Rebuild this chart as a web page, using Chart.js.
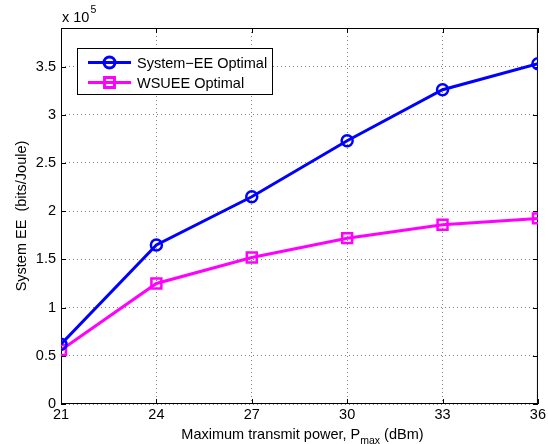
<!DOCTYPE html>
<html>
<head>
<meta charset="utf-8">
<title>System EE vs maximum transmit power</title>
<script src="https://cdn.jsdelivr.net/npm/chart.js@4.4.1/dist/chart.umd.min.js"></script>
<style>
  html, body { margin: 0; padding: 0; background: #fff; }
  canvas { display: block; }
</style>
</head>
<body>
<canvas id="eeChart" width="548" height="444"></canvas>
<script>
// values in units of 10^5 bits/Joule
const powerDbm = [21, 24, 27, 30, 33, 36];
const systemEeOptimal = [0.62, 1.65, 2.15, 2.73, 3.26, 3.53];
const wsueeOptimal = [0.56, 1.25, 1.52, 1.72, 1.86, 1.925];
const seriesNames = ["System\u2212EE Optimal", "WSUEE Optimal"];
const xTicks = [21, 24, 27, 30, 33, 36];
const yTicks = [0, 0.5, 1, 1.5, 2, 2.5, 3, 3.5];

const FONT = '"Liberation Sans", Arial, Helvetica, sans-serif';
const BLUE = "#0000ff";
const MAGENTA = "#ff00ff";

const toPoints = ys => powerDbm.map((x, i) => ({ x, y: ys[i] }));

// axes box, inward ticks, legend and the x label with subscript
const matlabFrame = {
  id: "matlabFrame",
  beforeDatasetsDraw(chart) {
    const { ctx, chartArea: a, scales } = chart;
    ctx.save();
    ctx.strokeStyle = "#000";
    ctx.lineWidth = 1;
    ctx.strokeRect(a.left + 0.5, a.top + 0.5, a.right - a.left - 1, a.bottom - a.top - 1);
    ctx.beginPath();
    const len = 5;
    for (const v of xTicks) {
      const px = Math.round(scales.x.getPixelForValue(v)) + 0.5;
      ctx.moveTo(px, a.bottom); ctx.lineTo(px, a.bottom - len);
      ctx.moveTo(px, a.top); ctx.lineTo(px, a.top + len);
    }
    for (const v of yTicks) {
      const py = Math.round(scales.y.getPixelForValue(v)) + 0.5;
      ctx.moveTo(a.left, py); ctx.lineTo(a.left + len, py);
      ctx.moveTo(a.right, py); ctx.lineTo(a.right - len, py);
    }
    ctx.stroke();
    ctx.restore();
  },
  afterDraw(chart) {
    const { ctx, chartArea: a } = chart;
    ctx.save();

    // legend
    const bx = 77.5, by = 48.5, bw = 195, bh = 46;
    ctx.fillStyle = "#fff";
    ctx.fillRect(bx, by, bw, bh);
    ctx.strokeStyle = "#000";
    ctx.lineWidth = 1;
    ctx.strokeRect(bx, by, bw, bh);
    chart.data.datasets.forEach((ds, i) => {
      const y = 62.5 + i * 20;
      ctx.strokeStyle = ds.borderColor;
      ctx.lineWidth = ds.borderWidth;
      ctx.beginPath();
      ctx.moveTo(88, y); ctx.lineTo(131, y);
      ctx.stroke();
      ctx.strokeStyle = ds.pointBorderColor;
      ctx.fillStyle = "rgba(0,0,0,0)";
      Chart.helpers.drawPoint(ctx, {
        pointStyle: ds.pointStyle, radius: ds.pointRadius,
        borderWidth: ds.pointBorderWidth, rotation: 0
      }, 109.5, y);
      ctx.fillStyle = "#000";
      ctx.font = `14.5px ${FONT}`;
      ctx.textBaseline = "middle";
      ctx.textAlign = "left";
      ctx.fillText(ds.label, 137, y + 1);
    });

    // x axis label with subscript
    const main = "Maximum transmit power, P";
    const sub = "max";
    const tail = " (dBm)";
    ctx.fillStyle = "#000";
    ctx.textBaseline = "alphabetic";
    ctx.textAlign = "left";
    ctx.font = `14.5px ${FONT}`;
    const w1 = ctx.measureText(main).width;
    const w3 = ctx.measureText(tail).width;
    ctx.font = `10.5px ${FONT}`;
    const w2 = ctx.measureText(sub).width;
    let x = (a.left + a.right) / 2 + 3 - (w1 + w2 + w3) / 2;
    const base = 439;
    ctx.font = `14.5px ${FONT}`;
    ctx.fillText(main, x, base);
    x += w1;
    ctx.font = `10.5px ${FONT}`;
    ctx.fillText(sub, x, base + 5);
    x += w2;
    ctx.font = `14.5px ${FONT}`;
    ctx.fillText(tail, x, base);

    // exponent above the y axis
    ctx.font = `14.5px ${FONT}`;
    ctx.fillText("x 10", 62, 22);
    const wx = ctx.measureText("x 10").width;
    ctx.font = `10.5px ${FONT}`;
    ctx.fillText("5", 62 + wx + 1, 13);

    ctx.restore();
  }
};

const gridStyle = { color: "#808080", lineWidth: 1, drawTicks: false };

new Chart(document.getElementById("eeChart"), {
  type: "line",
  data: {
    datasets: [
      {
        label: seriesNames[0],
        data: toPoints(systemEeOptimal),
        borderColor: BLUE,
        borderWidth: 3,
        pointStyle: "circle",
        pointRadius: 5.5,
        pointBorderWidth: 2.5,
        pointBorderColor: BLUE,
        pointBackgroundColor: "rgba(0,0,0,0)",
        tension: 0
      },
      {
        label: seriesNames[1],
        data: toPoints(wsueeOptimal),
        borderColor: MAGENTA,
        borderWidth: 3,
        pointStyle: "rect",
        pointRadius: 7,
        pointBorderWidth: 2.5,
        pointBorderColor: MAGENTA,
        pointBackgroundColor: "rgba(0,0,0,0)",
        tension: 0
      }
    ]
  },
  options: {
    responsive: false,
    animation: false,
    layout: { padding: { top: 28, right: 10, left: 0, bottom: 0 } },
    plugins: { legend: { display: false }, tooltip: { enabled: false } },
    scales: {
      x: {
        type: "linear",
        min: 21,
        max: 36,
        afterBuildTicks: s => { s.ticks = xTicks.map(value => ({ value })); },
        afterFit: s => { s.height = 40; },
        grid: gridStyle,
        border: { display: false, dash: [1, 3] },
        ticks: {
          color: "#000",
          font: { family: FONT, size: 14.5 },
          padding: 2,
          maxRotation: 0,
          callback: v => String(v)
        }
      },
      y: {
        type: "linear",
        min: 0,
        max: 3.9,
        afterBuildTicks: s => { s.ticks = yTicks.map(value => ({ value })); },
        afterFit: s => { s.width = 61; },
        grid: gridStyle,
        border: { display: false, dash: [1, 3] },
        title: {
          display: true,
          text: "System EE  (bits/Joule)",
          color: "#000",
          font: { family: FONT, size: 14.5 },
          padding: { top: 13, bottom: 0 }
        },
        ticks: {
          color: "#000",
          font: { family: FONT, size: 14.5 },
          padding: 5,
          callback: v => String(v)
        }
      }
    }
  },
  plugins: [matlabFrame]
});
</script>
</body>
</html>
